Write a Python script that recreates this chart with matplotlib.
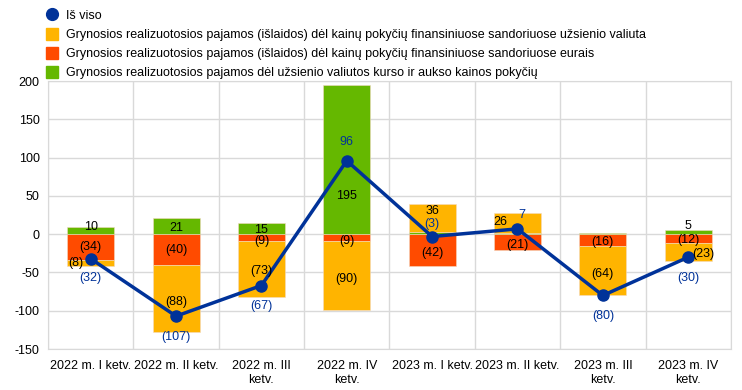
import numpy as np
import matplotlib.pyplot as plt
from matplotlib.lines import Line2D

plt.rcParams['font.family'] = ['Liberation Sans', 'DejaVu Sans']
plt.rcParams['axes.unicode_minus'] = False

# duomenys
ketv = ["2022 m. I ketv.", "2022 m. II ketv.", "2022 m. III\nketv.", "2022 m. IV\nketv.",
        "2023 m. I ketv.", "2023 m. II ketv.", "2023 m. III\nketv.", "2023 m. IV\nketv."]
uzsienio_valiuta = [-8, -88, -73, -90, 36, 26, -64, -23]
eurais = [-34, -40, -9, -9, -42, -21, -16, -12]
kursas = [10, 21, 15, 195, 3, 2, 1, 5]
is_viso = [-32, -107, -67, 96, -3, 7, -80, -30]

# kurios reiksmes rodomos
rodyti_kursas = [True, True, True, True, False, False, False, True]

geltona = "#FFB400"
raudona = "#FF4B00"
zalia = "#65B800"
melyna = "#003299"

fig = plt.figure(figsize=(7.42, 3.90), dpi=100)
ax = fig.add_axes([0.0647, 0.105, 0.9203, 0.687])

x = np.arange(len(ketv))
w = 0.55

val = np.array(uzsienio_valiuta, dtype=float)
eur = np.array(eurais, dtype=float)
kur = np.array(kursas, dtype=float)

# teigiami ir neigiami stulpeliai kaupiami atskirai
pos = np.zeros(len(x))
neg = np.zeros(len(x))
bottoms = {}
for name, v, c in [("eur", eur, raudona), ("kur", kur, zalia), ("val", val, geltona)]:
    b = np.where(v >= 0, pos, neg)
    ax.bar(x, v, w, bottom=b, color=c, edgecolor="#f3d9c0", linewidth=0.4, zorder=2)
    bottoms[name] = b
    pos = pos + np.where(v >= 0, v, 0)
    neg = neg + np.where(v < 0, v, 0)

ax.plot(x, is_viso, color=melyna, lw=2.5, marker="o", ms=8, zorder=4)

def fmt(v):
    return f"({abs(v)})" if v < 0 else f"{v}"

fs = 9
# etikeciu poslinkiai (x, y) duomenu vienetais
kur_dy = [4, -2, -2, -47, 0, 0, 0, 8]
eur_dy = [0, 0, -4, -4, -3, -3, -2, -1]
val_dx = [-0.18, 0, 0, 0, 0, -0.2, 0, 0.18]
val_dy = [1, -4, -2, -4, 9, 1, -4, -2]
tot_dx = [0, 0, 0, 0, 0, 0.05, 0, 0]
tot_dy = [-25, -27, -27, 24, 16, 18, -27, -27]

for i in range(len(x)):
    if rodyti_kursas[i]:
        yk = bottoms["kur"][i] + kur[i] / 2 + kur_dy[i]
        ax.text(x[i], yk, fmt(kursas[i]), ha="center", va="center", fontsize=fs, zorder=5)
    ye = bottoms["eur"][i] + eur[i] / 2 + eur_dy[i]
    ax.text(x[i], ye, fmt(eurais[i]), ha="center", va="center", fontsize=fs, zorder=5)
    yv = bottoms["val"][i] + val[i] / 2 + val_dy[i]
    ax.text(x[i] + val_dx[i], yv, fmt(uzsienio_valiuta[i]), ha="center", va="center",
            fontsize=fs, zorder=5)
    ax.text(x[i] + tot_dx[i], is_viso[i] + tot_dy[i], fmt(is_viso[i]), ha="center",
            va="center", fontsize=fs, color=melyna, zorder=5)

ax.set_xlim(-0.5, len(x) - 0.5)
ax.set_ylim(-150, 200)
ax.set_yticks(np.arange(-150, 201, 50))
ax.set_xticks(x)
ax.set_xticklabels(ketv, fontsize=fs, linespacing=1.15)
ax.tick_params(axis="y", labelsize=fs, length=0, pad=6)
ax.tick_params(axis="x", length=0, pad=8)
ax.set_xticks(np.arange(-0.5, len(x), 1), minor=True)
ax.tick_params(axis="x", which="minor", length=0)
ax.grid(axis="y", color="#d9d9d9", lw=1, zorder=0)
ax.grid(axis="x", which="minor", color="#d9d9d9", lw=1, zorder=0)
for s in ax.spines.values():
    s.set_color("#d9d9d9")

handles = [
    Line2D([], [], ls="", marker="o", ms=8.5, color=melyna),
    Line2D([], [], ls="", marker="s", ms=8, color=geltona),
    Line2D([], [], ls="", marker="s", ms=8, color=raudona),
    Line2D([], [], ls="", marker="s", ms=8, color=zalia),
]
labels = [
    "Iš viso",
    "Grynosios realizuotosios pajamos (išlaidos) dėl kainų pokyčių finansiniuose sandoriuose užsienio valiuta",
    "Grynosios realizuotosios pajamos (išlaidos) dėl kainų pokyčių finansiniuose sandoriuose eurais",
    "Grynosios realizuotosios pajamos dėl užsienio valiutos kurso ir aukso kainos pokyčių",
]
fig.legend(handles, labels, loc="upper left", bbox_to_anchor=(0.055, 0.988), frameon=False,
           fontsize=fs, handlelength=1.0, handletextpad=0.6, labelspacing=0.58,
           borderaxespad=0)

fig.savefig("out.png", dpi=100)
